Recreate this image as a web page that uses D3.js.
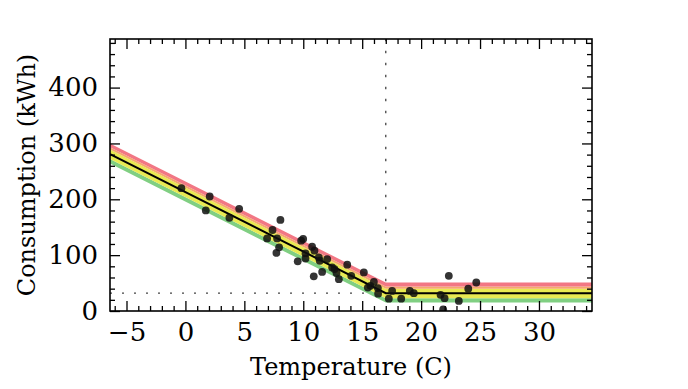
<!DOCTYPE html>
<html>
<head>
<meta charset="utf-8">
<script src="https://cdn.jsdelivr.net/npm/d3@7"></script>
<style>
  body { margin: 0; background: #fff; }
  text { font-family: "DejaVu Serif", serif; }
</style>
</head>
<body>
<div id="d3-container"></div>
<script>
const width = 688,
height = 389,
margin = { top: 39, bottom: 78, left: 110, right: 96 },
radius = 3.9;

// observed points (temperature C, consumption kWh)
const temps = [-0.34, 2.06, 1.73, 3.73, 4.56, 8.06, 7.39, 6.93, 7.78, 7.95, 7.72, 9.82,
  9.99, 9.53, 10.19, 10.19, 10.75, 10.95, 11.32, 11.4, 10.89, 11.6, 12.03, 12.45,
  12.65, 12.82, 13.02, 13.73, 14.07, 15.14, 15.7, 15.99, 15.48, 16.33, 16.35, 17.54,
  17.26, 18.31, 19.04, 19.38, 21.65, 21.99, 21.87, 22.35, 23.2, 24.0, 24.68];
const consumption = [220, 205, 180, 167, 183, 163, 145, 130, 130, 114, 104, 126,
  129, 89, 103, 94, 115, 108, 96, 90, 62, 70, 93, 78,
  75, 68, 57, 83, 63, 69, 45, 52, 42, 41, 31, 36,
  22, 22, 36, 32, 29, 23, 3, 63, 18, 40, 51];

// fitted change-point model
const fitTemps = [-6.4, 17, 34.5];
const fitValues = [281, 32, 32];
const changePoint = 17;
const baseLoad = 32;

// bands around fit (lower / upper offset, kWh)
const bandNames = ["green", "yellow", "orange", "red"];
const bandLow = [-17, -9, 8, 12];
const bandHigh = [-9, 8, 12, 19];
const bandColors = ["#80cf82", "#e8ea52", "#f6a86c", "#f27784"];

const xTicks = [-5, 0, 5, 10, 15, 20, 25, 30];
const yTicks = [0, 100, 200, 300, 400];
const xDomain = [-6.4, 34.5];
const yDomain = [0, 487];

const innerW = width - margin.left - margin.right,
innerH = height - margin.top - margin.bottom;

let svg = d3.select("#d3-container")
  .append("svg")
  .attr("width", width)
  .attr("height", height);

let x = d3.scaleLinear().domain(xDomain).range([margin.left, margin.left + innerW]);
let y = d3.scaleLinear().domain(yDomain).range([margin.top + innerH, margin.top]);

svg.append("clipPath")
  .attr("id", "clip")
  .append("rect")
  .attr("x", margin.left)
  .attr("y", margin.top)
  .attr("width", innerW)
  .attr("height", innerH);

let plot = svg.append("g").attr("clip-path", "url(#clip)");

const fit = fitTemps.map((t, i) => ({ t: t, v: fitValues[i] }));

// dotted guides
plot.append("line")
  .attr("x1", x(xDomain[0])).attr("x2", x(changePoint))
  .attr("y1", y(baseLoad)).attr("y2", y(baseLoad))
  .attr("stroke", "#444")
  .attr("stroke-width", 1.3)
  .attr("stroke-dasharray", "2,10");

plot.append("line")
  .attr("x1", x(changePoint)).attr("x2", x(changePoint))
  .attr("y1", y(baseLoad)).attr("y2", y(yDomain[1]))
  .attr("stroke", "#444")
  .attr("stroke-width", 1.3)
  .attr("stroke-dasharray", "2.5,9.5");

// bands
bandNames.forEach((name, i) => {
  let area = d3.area()
    .x(d => x(d.t))
    .y0(d => y(d.v + bandLow[i]))
    .y1(d => y(d.v + bandHigh[i]));
  plot.append("path")
    .datum(fit)
    .attr("class", "band " + name)
    .attr("d", area)
    .attr("fill", bandColors[i]);
});

plot.append("path")
  .datum(fit)
  .attr("d", d3.line().x(d => x(d.t)).y(d => y(d.v)))
  .attr("fill", "none")
  .attr("stroke", "#000")
  .attr("stroke-width", 2);

plot.selectAll(".dot")
  .data(temps.map((t, i) => ({ t: t, v: consumption[i] })))
  .join("circle")
  .attr("class", "dot")
  .attr("cx", d => x(d.t))
  .attr("cy", d => y(d.v))
  .attr("r", radius)
  .attr("fill", "#111")
  .attr("fill-opacity", 0.85);

// axes, ticks inward on all four sides
const xMinor = d3.range(-6, 35, 1).filter(d => d % 5 !== 0);
const yMinor = d3.range(20, 487, 20).filter(d => d % 100 !== 0);

function addAxis(axisFn, scale, pos, major, minor, labels) {
  let g = svg.append("g").attr("transform", pos);
  g.call(axisFn(scale).tickValues(major).tickSize(-10).tickPadding(labels ? 12 : 0)
    .tickFormat(labels ? (d => d < 0 ? "\u2212" + Math.abs(d) : d) : ""));
  g.append("g").call(axisFn(scale).tickValues(minor).tickSize(-5).tickFormat(""));
  g.selectAll(".domain").remove();
  g.selectAll("line").attr("stroke", "#000").attr("stroke-width", 1.3);
  g.selectAll("text").attr("fill", "#000").style("font-size", "26px").style("font-family", "DejaVu Serif");
  return g;
}

addAxis(d3.axisBottom, x, "translate(0," + (margin.top + innerH) + ")", xTicks, xMinor, true);
addAxis(d3.axisTop, x, "translate(0," + margin.top + ")", xTicks, xMinor, false);
addAxis(d3.axisLeft, y, "translate(" + margin.left + ",0)", yTicks, yMinor, true);
addAxis(d3.axisRight, y, "translate(" + (margin.left + innerW) + ",0)", yTicks, yMinor, false);

svg.append("rect")
  .attr("x", margin.left)
  .attr("y", margin.top)
  .attr("width", innerW)
  .attr("height", innerH)
  .attr("fill", "none")
  .attr("stroke", "#000")
  .attr("stroke-width", 1.6);

svg.append("text")
  .attr("x", margin.left + innerW / 2)
  .attr("y", 375)
  .attr("text-anchor", "middle")
  .style("font-size", "24px")
  .text("Temperature (C)");

svg.append("text")
  .attr("transform", "translate(35," + (margin.top + innerH / 2) + ") rotate(-90)")
  .attr("text-anchor", "middle")
  .style("font-size", "24px")
  .text("Consumption (kWh)");
</script>
</body>
</html>
